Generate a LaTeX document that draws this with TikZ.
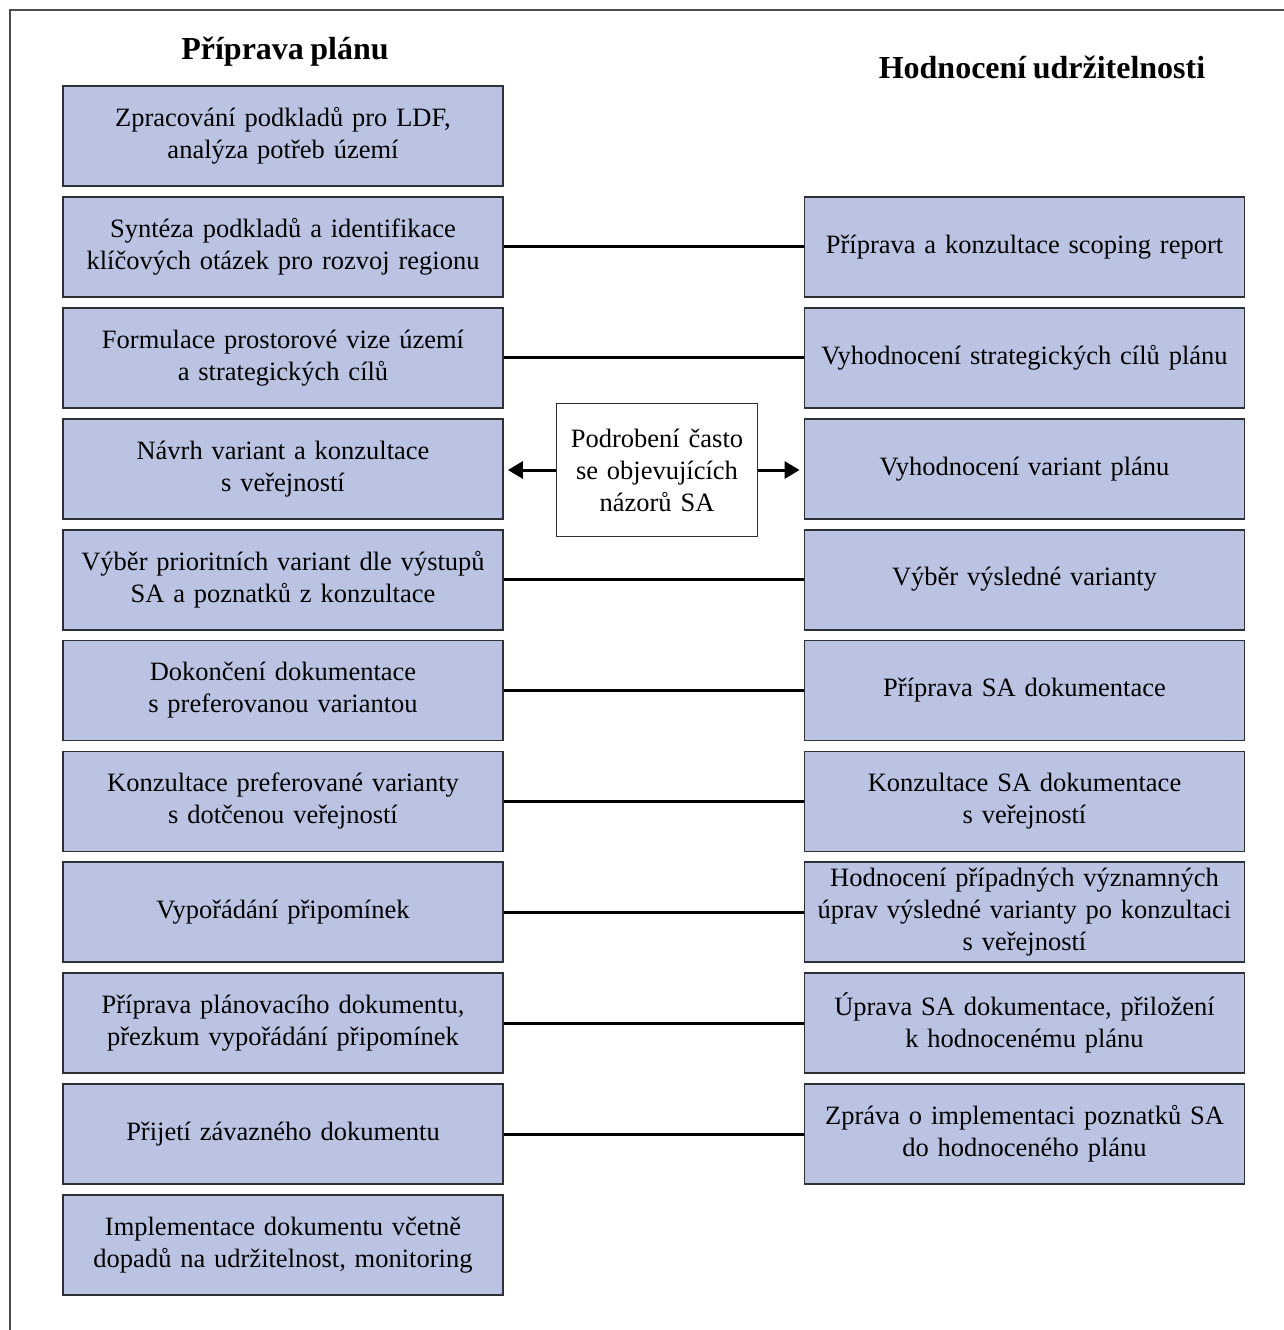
\documentclass[tikz,border=0pt]{standalone}
\usepackage{fontspec}
\setmainfont{Liberation Serif}[WordSpace=0.8]
\usetikzlibrary{arrows.meta}
\definecolor{boxfill}{HTML}{BAC3E2}
\definecolor{boxline}{HTML}{2E3038}
\begin{document}
\begin{tikzpicture}[x=1pt,y=-1pt,
  stepbox/.style={draw=boxline, line width=1.8pt, fill=boxfill, minimum width=440pt, minimum height=100pt,
    align=center, text width=436pt, inner sep=0pt, font=\fontsize{26.5}{32}\selectfont},
  midbox/.style={draw=boxline, line width=1.8pt, fill=white, minimum width=201pt, minimum height=133pt,
    align=center, text width=197pt, inner sep=0pt, font=\fontsize{26.5}{32}\selectfont},
  title/.style={font=\fontsize{32}{36}\selectfont\bfseries},
  link/.style={line width=3pt, black},
  arr/.style={line width=3pt, black, -{Triangle[length=15pt,width=17pt]}, shorten >=4pt}]
\useasboundingbox (0,0) rectangle (1284,1330);
\draw[line width=2pt, black!70] (10,1330) -- (10,10) -- (1284,10);
\node[title] (tl) at (285,52) {Příprava plánu};
\node[title] (tr) at (1042,67) {Hodnocení udržitelnosti};
\def\rowy#1{136+(#1-1)*110.9}
\node[stepbox] (L1) at (283,{\rowy{1}}) {Zpracování podkladů pro LDF,\\analýza potřeb území};
\node[stepbox] (L2) at (283,{\rowy{2}}) {Syntéza podkladů a identifikace\\klíčových otázek pro rozvoj regionu};
\node[stepbox] (L3) at (283,{\rowy{3}}) {Formulace prostorové vize území\\a strategických cílů};
\node[stepbox] (L4) at (283,{\rowy{4}}) {Návrh variant a konzultace\\s veřejností};
\node[stepbox] (L5) at (283,{\rowy{5}}) {Výběr prioritních variant dle výstupů\\SA a poznatků z konzultace};
\node[stepbox] (L6) at (283,{\rowy{6}}) {Dokončení dokumentace\\s preferovanou variantou};
\node[stepbox] (L7) at (283,{\rowy{7}}) {Konzultace preferované varianty\\s dotčenou veřejností};
\node[stepbox] (L8) at (283,{\rowy{8}}) {Vypořádání připomínek};
\node[stepbox] (L9) at (283,{\rowy{9}}) {Příprava plánovacího dokumentu,\\přezkum vypořádání připomínek};
\node[stepbox] (L10) at (283,{\rowy{10}}) {Přijetí závazného dokumentu};
\node[stepbox] (L11) at (283,{\rowy{11}}) {Implementace dokumentu včetně\\dopadů na udržitelnost, monitoring};
\node[stepbox] (R2) at (1024.5,{\rowy{2}}) {Příprava a konzultace scoping report};
\node[stepbox] (R3) at (1024.5,{\rowy{3}}) {Vyhodnocení strategických cílů plánu};
\node[stepbox] (R4) at (1024.5,{\rowy{4}}) {Vyhodnocení variant plánu};
\node[stepbox] (R5) at (1024.5,{\rowy{5}}) {Výběr výsledné varianty};
\node[stepbox] (R6) at (1024.5,{\rowy{6}}) {Příprava SA dokumentace};
\node[stepbox] (R7) at (1024.5,{\rowy{7}}) {Konzultace SA dokumentace\\s veřejností};
\node[stepbox] (R8) at (1024.5,{\rowy{8}}) {Hodnocení případných významných\\úprav výsledné varianty po konzultaci\\s veřejností};
\node[stepbox] (R9) at (1024.5,{\rowy{9}}) {Úprava SA dokumentace, přiložení\\k hodnocenému plánu};
\node[stepbox] (R10) at (1024.5,{\rowy{10}}) {Zpráva o implementaci poznatků SA\\do hodnoceného plánu};
\node[midbox] (M) at (657,470) {Podrobení často\\se objevujících\\názorů SA};
\foreach \i in {2,3,5,6,7,8,9,10} {\draw[link] (L\i.east) -- (R\i.west);}
\draw[arr] (M.west) -- (M.west -| L4.east);
\draw[arr] (M.east) -- (M.east -| R4.west);
\end{tikzpicture}
\end{document}
